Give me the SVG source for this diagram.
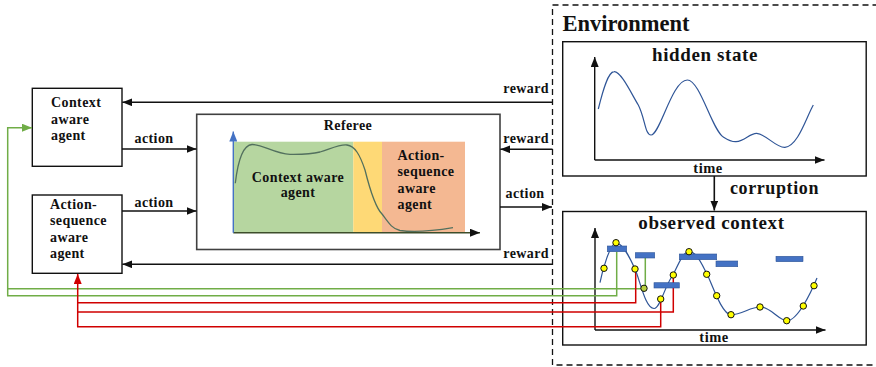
<svg xmlns="http://www.w3.org/2000/svg" width="876" height="367" viewBox="0 0 876 367">
<style>
text{font-family:'Liberation Serif','Times New Roman',serif;font-weight:700;fill:#111;}
.s{font-size:14px;letter-spacing:0.4px;}
.box{fill:#fff;stroke:#111;stroke-width:1.4;}
.ln{fill:none;stroke:#111;stroke-width:1.6;}
.ax{fill:none;stroke:#111;stroke-width:1.4;}
.g{fill:none;stroke:#70ad47;stroke-width:1.5;}
.r{fill:none;stroke:#d00000;stroke-width:1.5;}
.bar{fill:#4472c4;stroke:#2f5597;stroke-width:0.6;}
.dot{fill:#ffff00;stroke:#111;stroke-width:1;}
.cv{fill:none;stroke:#2f5597;stroke-width:1.2;}
</style>
<defs>
<marker id="ah" viewBox="0 0 10 8" markerWidth="10" markerHeight="8" refX="10" refY="4" orient="auto" markerUnits="userSpaceOnUse"><path d="M0,0 L10,4 L0,8 z" fill="#111"/></marker>
<marker id="ahg" viewBox="0 0 10 8" markerWidth="10" markerHeight="8" refX="10" refY="4" orient="auto" markerUnits="userSpaceOnUse"><path d="M0,0 L10,4 L0,8 z" fill="#70ad47"/></marker>
<marker id="ahr" viewBox="0 0 10 8" markerWidth="10" markerHeight="8" refX="10" refY="4" orient="auto" markerUnits="userSpaceOnUse"><path d="M0,0 L10,4 L0,8 z" fill="#d00000"/></marker>
<marker id="ahb" viewBox="0 0 10 8" markerWidth="10" markerHeight="8" refX="10" refY="4" orient="auto" markerUnits="userSpaceOnUse"><path d="M0,0 L10,4 L0,8 z" fill="#4472c4"/></marker>
</defs>
<rect width="876" height="367" fill="#fff"/>

<g id="environment">
<rect x="552.5" y="5" width="340" height="360" fill="none" stroke="#111" stroke-width="1.3" stroke-dasharray="6,4"/>
<text x="562.5" y="30.5" font-size="22.5">Environment</text>
</g>

<g id="hidden-state">
<rect class="box" x="562.7" y="41.7" width="303.5" height="134.3"/>
<text x="705" y="60.5" font-size="19" letter-spacing="0.6" text-anchor="middle">hidden state</text>
<path class="ax" d="M594.7,160 L594.7,57" marker-end="url(#ah)"/>
<path class="ax" d="M594.7,160 L824.5,160" marker-end="url(#ah)"/>
<path class="cv" d="M598.3,109 C603,90 608,72 614,71.7 C621,71 632,95 638.3,105 C645,118 645,135 651,135 C660,135 672,80 687.3,80 C700,80 712,130 723.3,137 C728,140 731,142 736,141.7 C745,141 750,133 756.7,133.3 C766,134 776,148 785,147.3 C798,146 806,118 813.3,105"/>
<text x="708" y="172.5" font-size="14.5" letter-spacing="0.5" text-anchor="middle">time</text>
</g>

<g id="observed-context">
<rect class="box" x="562.7" y="211.5" width="303.5" height="133.5"/>
<text x="711.5" y="229.3" font-size="19" letter-spacing="0.6" text-anchor="middle">observed context</text>
<path class="ax" d="M595,330 L595,228" marker-end="url(#ah)"/>
<path class="ax" d="M595,330 L825.5,330" marker-end="url(#ah)"/>
<text x="714" y="341.5" font-size="14.5" letter-spacing="0.5" text-anchor="middle">time</text>
</g>

<g id="context-agent">
<rect class="box" x="32.3" y="88.3" width="89.7" height="78"/>
<text class="s" x="51" y="107.3">Context</text>
<text class="s" x="51" y="124">aware</text>
<text class="s" x="51" y="140.3">agent</text>
</g>

<g id="action-sequence-agent">
<rect class="box" x="32.3" y="195" width="89.7" height="78.3"/>
<text class="s" x="50" y="208.5">Action-</text>
<text class="s" x="50" y="224.5">sequence</text>
<text class="s" x="50" y="241.5">aware</text>
<text class="s" x="50" y="257.8">agent</text>
</g>

<g id="referee">
<rect x="196.7" y="114.3" width="303.3" height="135.2" fill="#fff" stroke="#404040" stroke-width="1.6"/>
<text class="s" x="348" y="130" text-anchor="middle">Referee</text>
<rect x="233.3" y="141.7" width="120" height="91" fill="#b6d6a0"/>
<rect x="353.3" y="141.7" width="28.7" height="91" fill="#fed976"/>
<rect x="382" y="141.7" width="83" height="91" fill="#f4b892"/>
<path d="M235.3,183.3 C238,160 243,145 252,144.5 C262,144 275,154 290,154.3 C305,154.5 312,154 320,152 C330,149 340,144 347,145 C355,146 360,155 365,170 C370,190 376,208 382,214 C388,222 392,229 400,230.5 C410,232 430,231.5 453,227.7" fill="none" stroke="#52705e" stroke-width="1.3"/>
<path d="M233.3,232.7 L480,232.7" fill="none" stroke="#3d4d2a" stroke-width="1.6" marker-end="url(#ah)"/>
<path d="M233.3,232.7 L233.3,131.5" fill="none" stroke="#4472c4" stroke-width="1.4" marker-end="url(#ahb)"/>
<text class="s" x="298" y="181.5" text-anchor="middle">Context aware</text>
<text class="s" x="298" y="197" text-anchor="middle">agent</text>
<text class="s" x="397.5" y="159.5">Action-</text>
<text class="s" x="397.5" y="176">sequence</text>
<text class="s" x="397.5" y="192.5">aware</text>
<text class="s" x="397.5" y="209">agent</text>
</g>

<g id="connectors">
<path class="ln" d="M552.5,102.3 L122.3,102.3" marker-end="url(#ah)"/>
<text class="s" x="549" y="93.3" text-anchor="end">reward</text>
<path class="ln" d="M552.5,149.3 L500.3,149.3" marker-end="url(#ah)"/>
<text class="s" x="549" y="142.7" text-anchor="end">reward</text>
<path class="ln" d="M500,207 L552,207" marker-end="url(#ah)"/>
<text class="s" x="525" y="198.3" text-anchor="middle">action</text>
<path class="ln" d="M552.5,264.3 L122.3,264.3" marker-end="url(#ah)"/>
<text class="s" x="549" y="258.3" text-anchor="end">reward</text>
<path class="ln" d="M122,149 L196.5,149" marker-end="url(#ah)"/>
<text class="s" x="154" y="142.7" text-anchor="middle">action</text>
<path class="ln" d="M122,211 L196.5,211" marker-end="url(#ah)"/>
<text class="s" x="154" y="206.7" text-anchor="middle">action</text>
<path class="ln" d="M714.3,176 L714.3,210.5" marker-end="url(#ah)"/>
<text x="730" y="194.3" font-size="18" letter-spacing="0.6">corruption</text>

<path class="g" d="M645.3,258 L645.3,288.7 L7.7,288.7"/>
<path class="g" d="M616.7,251.7 L616.7,295.7 L7.7,295.7 L7.7,127.7 L32,127.7" marker-end="url(#ahg)"/>
<path class="r" d="M635.7,269 L635.7,302.7 L77.7,302.7"/>
<path class="r" d="M673.3,275 L673.3,312 L77.7,312"/>
<path class="r" d="M660.7,299 L660.7,326.7 L77.7,326.7 L77.7,274" marker-end="url(#ahr)"/>
</g>

<g id="observed-data">
<path class="cv" d="M600,282.7 C602,272 610,243 616,243 C623,243 630,258 635,269 C640,280 645,308 654,308.5 C660,309 665,285 673,275 C678,265 683,251.7 689,251.7 C697,251.7 702,265 707,274 C712,284 722,314.7 731,314.7 C742,314.7 750,307 760,307 C771,307 779,320.7 787,320.7 C797,320.7 810,295 817,278"/>
<rect class="bar" x="607.3" y="246" width="19.4" height="5.7"/>
<rect class="bar" x="635.3" y="252.7" width="19.4" height="5.3"/>
<rect class="bar" x="654" y="282.7" width="25.3" height="5.3"/>
<rect class="bar" x="679.3" y="254" width="37.4" height="5.7"/>
<rect class="bar" x="716" y="261" width="21.7" height="5.7"/>
<rect class="bar" x="776" y="256.3" width="27" height="5.4"/>
<circle class="dot" cx="604" cy="268.3" r="3.2"/>
<circle class="dot" cx="616" cy="242.7" r="3.2"/>
<circle class="dot" cx="635" cy="269" r="3.2"/>
<circle class="dot" cx="644" cy="288.3" r="3.2" style="fill:#b8d040"/>
<circle class="dot" cx="660.7" cy="299" r="3.2"/>
<circle class="dot" cx="673.3" cy="275" r="3.2"/>
<circle class="dot" cx="689" cy="251.7" r="3.2"/>
<circle class="dot" cx="706.7" cy="274.3" r="3.2"/>
<circle class="dot" cx="716.7" cy="295.7" r="3.2"/>
<circle class="dot" cx="731" cy="314.7" r="3.2"/>
<circle class="dot" cx="760" cy="307" r="3.2"/>
<circle class="dot" cx="786.7" cy="320.7" r="3.2"/>
<circle class="dot" cx="803.3" cy="306" r="3.2"/>
<circle class="dot" cx="814" cy="285.7" r="3.2"/>
</g>
</svg>
